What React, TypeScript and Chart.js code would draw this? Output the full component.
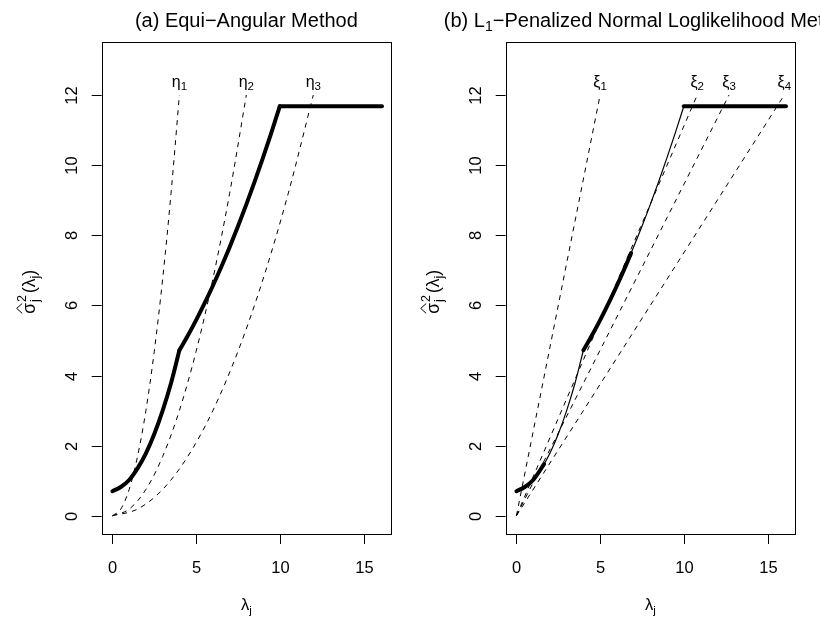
import React, { useEffect, useRef } from "react";
import { Chart, registerables } from "chart.js";
Chart.register(...registerables);

const FONT = '"Liberation Sans", Arial, Helvetica, sans-serif';

// Axes
const xTicks = [0, 5, 10, 15];
const yTicks = [0, 2, 4, 6, 8, 10, 12];
const xRange = [-0.64, 16.64];
const yRange = [-0.52, 13.52];

// Panel (a): estimated variance curve
const lowerLambda = [0, 0.5, 1, 1.5, 2, 2.5, 3, 3.5, 4];
const lowerSigma = [0.7, 0.82, 1.02, 1.35, 1.78, 2.33, 3.0, 3.78, 4.72];
const upperLambda = [4, 4.5, 5, 5.5, 6, 6.5, 7, 7.5, 8, 8.5, 9, 9.5, 10];
const upperSigma = [4.72, 5.135, 5.58, 6.055, 6.56, 7.095, 7.66, 8.255, 8.88, 9.535, 10.22, 10.935, 11.68];
const capLambda = [10, 16.1];
const capSigma = [11.68, 11.68];

// Panel (a): dashed eta curves
const eta1Lambda = [0, 0.5, 1, 1.5, 2, 2.5, 3, 3.5, 4];
const eta2Lambda = [0, 1, 2, 3, 4, 5, 6, 7, 8];
const eta3Lambda = [0, 1.5, 3, 4.5, 6, 7.5, 9, 10.5, 12];
const etaSigma = [0, 0.19, 0.75, 1.69, 3.0, 4.69, 6.75, 9.19, 12];
const etaLabelLambda = [4, 8, 12];

// Panel (b): solid curve split into thick / thin pieces
const bThick1Lambda = [0, 0.5, 1, 1.65];
const bThick1Sigma = [0.7, 0.82, 1.02, 1.47];
const bThin1Lambda = [1.65, 2, 2.5, 3, 3.5, 4];
const bThin1Sigma = [1.47, 1.78, 2.33, 3.0, 3.78, 4.72];
const bThick2Lambda = [4, 4.5, 5, 5.5, 6, 6.5, 6.85];
const bThick2Sigma = [4.72, 5.135, 5.58, 6.055, 6.56, 7.095, 7.49];
const bThin2Lambda = [6.85, 7.5, 8, 8.5, 9, 9.5, 10];
const bThin2Sigma = [7.49, 8.255, 8.88, 9.535, 10.22, 10.935, 11.68];

// Panel (b): dashed xi rays from the origin
const xiEndLambda = [5.0, 10.8, 12.7, 16.0];
const xiEndSigma = [12, 12, 12, 12];
const xiLabelLambda = [5.0, 10.8, 12.7, 16.0];
const labelSigma = 12.22;

const pts = (xs: number[], ys: number[]) => xs.map((x, i) => ({ x, y: ys[i] }));

const solid = (xs: number[], ys: number[], w: number) => ({
  data: pts(xs, ys),
  showLine: true,
  borderColor: "#000",
  borderWidth: w,
  pointRadius: 0,
  cubicInterpolationMode: "monotone",
  borderCapStyle: "round",
  borderJoinStyle: "round",
});

const dashed = (xs: number[], ys: number[]) => ({
  data: pts(xs, ys),
  showLine: true,
  borderColor: "#000",
  borderWidth: 1,
  borderDash: [5, 5],
  pointRadius: 0,
  cubicInterpolationMode: "monotone",
});

function drawSubText(ctx: CanvasRenderingContext2D, main: string, sub: string, cx: number, base: number) {
  ctx.font = "16px " + FONT;
  const wm = ctx.measureText(main).width;
  ctx.font = "11.5px " + FONT;
  const ws = ctx.measureText(sub).width;
  const x0 = cx - (wm + ws) / 2;
  ctx.textAlign = "left";
  ctx.textBaseline = "alphabetic";
  ctx.font = "16px " + FONT;
  ctx.fillText(main, x0, base);
  ctx.font = "11.5px " + FONT;
  ctx.fillText(sub, x0 + wm, base + 3);
}

function drawYLabel(ctx: CanvasRenderingContext2D, bx: number, cy: number) {
  const big = "17.5px " + FONT;
  const small = "12.5px " + FONT;
  ctx.save();
  ctx.translate(bx, cy);
  ctx.rotate(-Math.PI / 2);
  ctx.textAlign = "left";
  ctx.textBaseline = "alphabetic";
  ctx.font = big;
  const wS = ctx.measureText("σ").width;
  const wP = ctx.measureText("(λ").width;
  const wR = ctx.measureText(")").width;
  ctx.font = small;
  const w2 = Math.max(ctx.measureText("2").width, ctx.measureText("j").width);
  const wj = ctx.measureText("j").width;
  const total = wS + 1 + w2 + 2 + wP + wj + wR;
  let x = -total / 2;
  ctx.font = big;
  ctx.fillText("σ", x, 0);
  ctx.strokeStyle = "#000";
  ctx.lineWidth = 1;
  ctx.beginPath();
  ctx.moveTo(x + 0.5, -12.5);
  ctx.lineTo(x + wS / 2, -18);
  ctx.lineTo(x + wS - 0.5, -12.5);
  ctx.stroke();
  x += wS + 1;
  ctx.font = small;
  ctx.fillText("2", x, -8.5);
  ctx.fillText("j", x, 4);
  x += w2 + 2;
  ctx.font = big;
  ctx.fillText("(λ", x, 0);
  x += wP;
  ctx.font = small;
  ctx.fillText("j", x, 4);
  x += wj;
  ctx.font = big;
  ctx.fillText(")", x, 0);
  ctx.restore();
}

function makePlugin(panel: "a" | "b") {
  return {
    id: "rstyle" + panel,
    afterDraw(chart: any) {
      const ctx: CanvasRenderingContext2D = chart.ctx;
      const a = chart.chartArea;
      const xs = chart.scales.x;
      const ys = chart.scales.y;
      ctx.save();
      ctx.fillStyle = "#000";
      ctx.strokeStyle = "#000";
      ctx.lineWidth = 1;
      // box
      ctx.strokeRect(Math.round(a.left) + 0.5, Math.round(a.top) + 0.5, Math.round(a.right - a.left), Math.round(a.bottom - a.top));
      // x ticks
      ctx.font = "16.5px " + FONT;
      ctx.textAlign = "center";
      ctx.textBaseline = "alphabetic";
      for (const v of xTicks) {
        const px = Math.round(xs.getPixelForValue(v)) + 0.5;
        ctx.beginPath();
        ctx.moveTo(px, a.bottom);
        ctx.lineTo(px, a.bottom + 10);
        ctx.stroke();
        ctx.fillText(String(v), px, a.bottom + 38.5);
      }
      // y ticks
      for (const v of yTicks) {
        const py = Math.round(ys.getPixelForValue(v)) + 0.5;
        ctx.beginPath();
        ctx.moveTo(a.left - 10, py);
        ctx.lineTo(a.left, py);
        ctx.stroke();
        ctx.save();
        ctx.translate(a.left - 24.5, py);
        ctx.rotate(-Math.PI / 2);
        ctx.fillText(String(v), 0, 0);
        ctx.restore();
      }
      const cx = (a.left + a.right) / 2;
      // x label
      ctx.font = "16.5px " + FONT;
      ctx.textAlign = "left";
      const wl = ctx.measureText("λ").width;
      ctx.font = "11.5px " + FONT;
      const wj = ctx.measureText("j").width;
      ctx.font = "16.5px " + FONT;
      ctx.fillText("λ", cx - (wl + wj) / 2, 610);
      ctx.font = "11.5px " + FONT;
      ctx.fillText("j", cx - (wl + wj) / 2 + wl, 614);
      // y label
      drawYLabel(ctx, a.left - 67, (a.top + a.bottom) / 2 + 4);
      // title
      ctx.textAlign = "left";
      if (panel === "a") {
        ctx.font = "20px " + FONT;
        ctx.textAlign = "center";
        ctx.fillText("(a) Equi\u2212Angular Method", cx, 27);
      } else {
        const p1 = "(b) L";
        const p2 = "1";
        const p3 = "\u2212Penalized Normal Loglikelihood Method";
        ctx.font = "20px " + FONT;
        const w1 = ctx.measureText(p1).width;
        const w3 = ctx.measureText(p3).width;
        ctx.font = "14px " + FONT;
        const w2 = ctx.measureText(p2).width;
        const x0 = cx - (w1 + w2 + w3) / 2;
        ctx.font = "20px " + FONT;
        ctx.fillText(p1, x0, 27);
        ctx.font = "14px " + FONT;
        ctx.fillText(p2, x0 + w1, 31);
        ctx.font = "20px " + FONT;
        ctx.fillText(p3, x0 + w1 + w2, 27);
      }
      // curve labels
      const by = ys.getPixelForValue(labelSigma);
      if (panel === "a") {
        etaLabelLambda.forEach((l, i) => drawSubText(ctx, "η", String(i + 1), xs.getPixelForValue(l), by));
      } else {
        xiLabelLambda.forEach((l, i) => drawSubText(ctx, "ξ", String(i + 1), xs.getPixelForValue(l), by));
      }
      ctx.restore();
    },
  };
}

function baseOptions(padLeft: number, padRight: number) {
  return {
    responsive: false,
    maintainAspectRatio: false,
    animation: false,
    devicePixelRatio: 1,
    layout: { padding: { left: padLeft, right: padRight, top: 41.7, bottom: 84 } },
    plugins: { legend: { display: false }, tooltip: { enabled: false }, title: { display: false } },
    scales: {
      x: { type: "linear", min: xRange[0], max: xRange[1], display: false },
      y: { type: "linear", min: yRange[0], max: yRange[1], display: false },
    },
  };
}

export default function App() {
  const refA = useRef<HTMLCanvasElement>(null);
  const refB = useRef<HTMLCanvasElement>(null);

  useEffect(() => {
    const chartA = new Chart(refA.current as HTMLCanvasElement, {
      type: "scatter",
      data: {
        datasets: [
          dashed(eta1Lambda, etaSigma),
          dashed(eta2Lambda, etaSigma),
          dashed(eta3Lambda, etaSigma),
          solid(lowerLambda, lowerSigma, 4),
          solid(upperLambda, upperSigma, 4),
          solid(capLambda, capSigma, 4),
        ] as any,
      },
      options: baseOptions(101.7, 19) as any,
      plugins: [makePlugin("a")],
    });
    const xiSets = xiEndLambda.map((l, i) => dashed([0, l], [0, xiEndSigma[i]]));
    const chartB = new Chart(refB.current as HTMLCanvasElement, {
      type: "scatter",
      data: {
        datasets: [
          ...xiSets,
          solid(bThick1Lambda, bThick1Sigma, 4),
          solid(bThin1Lambda, bThin1Sigma, 1.2),
          solid(bThick2Lambda, bThick2Sigma, 4),
          solid(bThin2Lambda, bThin2Sigma, 1.2),
          solid(capLambda, capSigma, 4),
        ] as any,
      },
      options: baseOptions(95.7, 25) as any,
      plugins: [makePlugin("b")],
    });
    return () => {
      chartA.destroy();
      chartB.destroy();
    };
  }, []);

  return (
    <div style={{ position: "absolute", left: 0, top: 0, width: 820, height: 618, background: "#fff", overflow: "hidden" }}>
      <canvas ref={refA} width={410} height={618} style={{ position: "absolute", left: 0, top: 0, width: 410, height: 618 }} />
      <canvas ref={refB} width={410} height={618} style={{ position: "absolute", left: 410, top: 0, width: 410, height: 618 }} />
    </div>
  );
}
